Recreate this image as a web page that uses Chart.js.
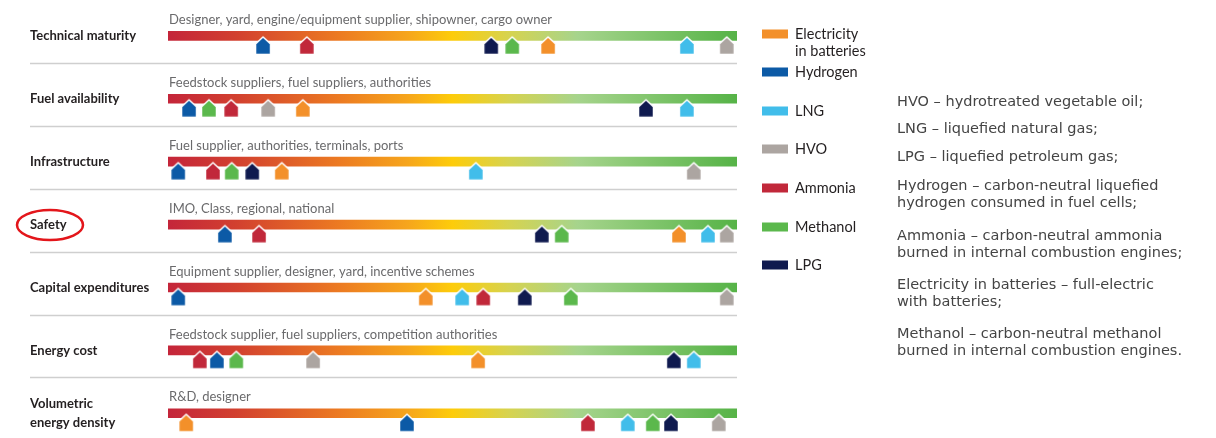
<!DOCTYPE html>
<html>
<head>
<meta charset="utf-8">
<script src="https://cdn.jsdelivr.net/npm/chart.js@4.4.1/dist/chart.umd.min.js"></script>
<style>
  html, body { margin: 0; padding: 0; background: #fff; }
  #wrap { width: 1216px; height: 438px; position: relative; }
</style>
</head>
<body>
<div id="wrap"><canvas id="fuel-chart" width="1216" height="438"></canvas></div>
<script>
// criteria (rows, top to bottom)
const criteria = [
  "Technical maturity",
  "Fuel availability",
  "Infrastructure",
  "Safety",
  "Capital expenditures",
  "Energy cost",
  ["Volumetric", "energy density"],
];
const stakeholders = [
  "Designer, yard, engine/equipment supplier, shipowner, cargo owner",
  "Feedstock suppliers, fuel suppliers, authorities",
  "Fuel supplier, authorities, terminals, ports",
  "IMO, Class, regional, national",
  "Equipment supplier, designer, yard, incentive schemes",
  "Feedstock supplier, fuel suppliers, competition authorities",
  "R&D, designer",
];

// position of each fuel on the scale 0 (worst) .. 100 (best), one value per criterion
const electricity = [66.8, 23.7, 20.0, 89.8, 45.3, 54.5, 3.2];
const hydrogen    = [16.7, 3.7, 1.8, 10.0, 1.8, 8.6, 42.0];
const lng         = [91.2, 91.2, 54.1, 94.9, 51.7, 92.4, 80.8];
const hvo         = [98.2, 17.6, 92.4, 98.2, 98.2, 25.5, 96.8];
const ammonia     = [24.4, 11.1, 7.9, 16.0, 55.4, 5.6, 73.8];
const methanol    = [60.5, 7.2, 11.2, 69.2, 70.8, 12.0, 85.2];
const lpg         = [56.8, 84.0, 14.8, 65.7, 62.7, 88.9, 88.4];

const fuels = [
  { name: ["Electricity", "in batteries"], values: electricity, color: "#f3902a" },
  { name: ["Hydrogen"], values: hydrogen, color: "#0c5aa6" },
  { name: ["LNG"], values: lng, color: "#41bdea" },
  { name: ["HVO"], values: hvo, color: "#aca5a1" },
  { name: ["Ammonia"], values: ammonia, color: "#c1283a" },
  { name: ["Methanol"], values: methanol, color: "#5bb84c" },
  { name: ["LPG"], values: lpg, color: "#0f1a4f" },
];

const notes = [
  ["HVO \u2013 hydrotreated vegetable oil;"],
  ["LNG \u2013 liquefied natural gas;"],
  ["LPG \u2013 liquefied petroleum gas;"],
  ["Hydrogen \u2013 carbon-neutral liquefied", "hydrogen consumed in fuel cells;"],
  ["Ammonia \u2013 carbon-neutral ammonia", "burned in internal combustion engines;"],
  ["Electricity in batteries \u2013 full-electric", "with batteries;"],
  ["Methanol \u2013 carbon-neutral methanol", "burned in internal combustion engines."],
];

// house shaped marker, drawn in the lower half so it sits under the bar
function makeMarker(color) {
  const c = document.createElement("canvas");
  c.width = 18;
  c.height = 40;
  const g = c.getContext("2d");
  g.beginPath();
  g.moveTo(9, 21);
  g.lineTo(16.5, 28);
  g.lineTo(16.5, 38.5);
  g.lineTo(1.5, 38.5);
  g.lineTo(1.5, 28);
  g.closePath();
  g.lineJoin = "round";
  g.fillStyle = color;
  g.fill();
  g.strokeStyle = "#fff";
  g.lineWidth = 1.5;
  g.stroke();
  return c;
}

function barGradient(context) {
  const area = context.chart.chartArea;
  if (!area) return "#f0a020";
  const g = context.chart.ctx.createLinearGradient(area.left, 0, area.right, 0);
  g.addColorStop(0, "#c4253a");
  g.addColorStop(0.12, "#d2402f");
  g.addColorStop(0.3, "#ec7a22");
  g.addColorStop(0.42, "#f6a51c");
  g.addColorStop(0.5, "#fdcc0a");
  g.addColorStop(0.6, "#d6d350");
  g.addColorStop(0.72, "#a6d48c");
  g.addColorStop(0.86, "#7ec46a");
  g.addColorStop(1, "#56b347");
  return g;
}

const decorations = {
  id: "decorations",
  beforeDatasetsDraw(chart) {
    const ctx = chart.ctx;
    const y = chart.scales.y;
    const area = chart.chartArea;
    ctx.save();
    // separators
    ctx.strokeStyle = "#cfcfcf";
    ctx.lineWidth = 1.5;
    for (let i = 0; i < criteria.length - 1; i++) {
      const py = Math.round(y.getPixelForValue(i + 0.43)) + 0.5;
      ctx.beginPath();
      ctx.moveTo(30, py);
      ctx.lineTo(area.right, py);
      ctx.stroke();
    }
    // stakeholder captions
    ctx.fillStyle = "#6a6a6c";
    ctx.font = "13px Lato";
    ctx.textBaseline = "middle";
    stakeholders.forEach((s, i) => {
      ctx.fillText(s, area.left + 1, y.getPixelForValue(i) - 16);
    });
    // red ring round "Safety"
    ctx.strokeStyle = "#e3161b";
    ctx.lineWidth = 2.5;
    ctx.beginPath();
    ctx.ellipse(50, y.getPixelForValue(3) + 0.5, 33, 15, 0, 0, Math.PI * 2);
    ctx.stroke();
    ctx.restore();
  },
  afterDraw(chart) {
    const ctx = chart.ctx;
    ctx.save();
    ctx.textBaseline = "middle";
    // legend
    const legendY = [34, 72, 111, 149, 188, 227, 265];
    ctx.font = "14.5px Lato";
    fuels.forEach((f, i) => {
      const ly = legendY[i];
      ctx.fillStyle = f.color;
      ctx.fillRect(762, ly - 4.5, 26, 9);
      ctx.fillStyle = "#231f20";
      f.name.forEach((t, k) => ctx.fillText(t, 795, ly + k * 17));
    });
    // abbreviations
    ctx.font = "14.5px 'DejaVu Sans'";
    ctx.fillStyle = "#444";
    const noteY = [102, 129, 157, 186, 236, 285, 334];
    notes.forEach((lines, i) => {
      lines.forEach((t, k) => ctx.fillText(t, 897, noteY[i] + k * 17.5));
    });
    ctx.restore();
  },
};

const datasets = fuels.map((f) => ({
  type: "scatter",
  label: f.name.join(" "),
  data: f.values.map((v, i) => ({ x: v, y: i })),
  pointStyle: makeMarker(f.color),
  pointRadius: 9,
  clip: false,
  order: 0,
}));
datasets.push({
  type: "bar",
  label: "scale",
  indexAxis: "y",
  data: criteria.map((c, i) => ({ x: [0, 100], y: i })),
  backgroundColor: barGradient,
  borderWidth: 0,
  barThickness: 9,
  order: 1,
});

var ctx = document.getElementById("fuel-chart").getContext("2d");
var fuelChart = new Chart(ctx, {
  type: "scatter",
  data: { datasets: datasets },
  plugins: [decorations],
  options: {
    responsive: false,
    animation: false,
    events: [],
    layout: { padding: { left: 30, right: 479, top: 5, bottom: 5 } },
    plugins: { legend: { display: false }, tooltip: { enabled: false } },
    scales: {
      x: { type: "linear", min: 0, max: 100, offset: false, display: false },
      y: {
        type: "linear",
        reverse: true,
        offset: false,
        min: -0.4115,
        max: 6.2345,
        grid: { display: false, drawTicks: false, offset: false },
        border: { display: false },
        afterBuildTicks: (axis) => {
          axis.ticks = criteria.map((c, i) => ({ value: i }));
        },
        afterFit: (axis) => {
          axis.width = 138;
          axis.paddingTop = 0;
          axis.paddingBottom = 0;
        },
        ticks: {
          crossAlign: "far",
          autoSkip: false,
          color: "#231f20",
          font: { family: "Lato", size: 13, weight: "bold", lineHeight: 1.4 },
          callback: (v) => criteria[v],
        },
      },
    },
  },
});
</script>
</body>
</html>
